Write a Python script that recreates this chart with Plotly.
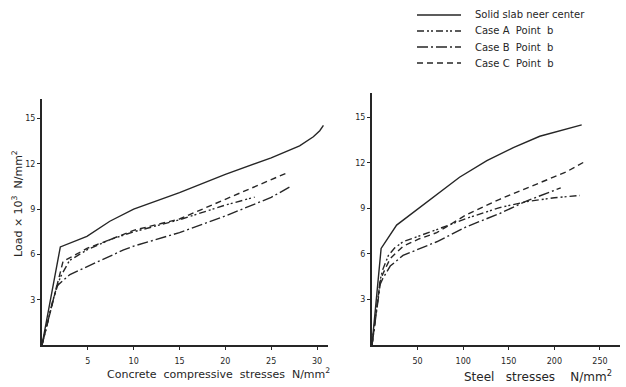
import plotly.graph_objects as go

# ---------------- data ----------------
series_names = ["Solid slab neer center", "Case A  Point  b", "Case B  Point  b", "Case C  Point  b"]

# Left panel: concrete compressive stress (N/mm^2) vs load (x10^3 N/mm^2)
conc_solid_x = [0, 2.0, 4.9, 7.4, 10.0, 15.0, 20.0, 25.0, 28.1, 29.6, 30.3, 30.7]
conc_solid_y = [0, 6.5, 7.2, 8.2, 9.0, 10.1, 11.3, 12.4, 13.2, 13.8, 14.2, 14.55]

conc_a_x = [0, 1.2, 2.0, 3.0, 4.9, 7.5, 10.0, 15.0, 20.0, 23.2]
conc_a_y = [0, 3.0, 4.5, 5.6, 6.3, 7.0, 7.5, 8.3, 9.27, 9.8]

conc_b_x = [0, 0.8, 1.6, 3.05, 4.9, 8.9, 10.0, 15.0, 20.0, 25.0, 27.1]
conc_b_y = [0, 2.0, 3.9, 4.67, 5.2, 6.3, 6.55, 7.45, 8.55, 9.78, 10.5]

conc_c_x = [0, 1.2, 2.0, 2.3, 3.4, 4.9, 7.5, 10.0, 15.0, 20.0, 25.0, 26.7]
conc_c_y = [0, 3.0, 4.8, 5.55, 5.9, 6.4, 7.0, 7.6, 8.35, 9.67, 10.95, 11.4]

# Right panel: steel stress (N/mm^2) vs load
steel_solid_x = [0, 10, 27, 49, 71, 96, 126, 155, 184, 206, 230]
steel_solid_y = [0, 6.36, 7.9, 8.9, 9.95, 11.05, 12.15, 13.0, 13.75, 14.1, 14.5]

steel_a_x = [0, 9, 12, 18, 25, 34, 71, 104, 140, 170, 200, 228]
steel_a_y = [0, 4.3, 5.0, 5.9, 6.4, 6.8, 7.6, 8.35, 9.05, 9.45, 9.7, 9.85]

steel_b_x = [0, 9, 12, 20, 34, 71, 104, 140, 170, 207]
steel_b_y = [0, 4.0, 4.4, 5.2, 5.9, 6.8, 7.8, 8.66, 9.5, 10.35]

steel_c_x = [0, 9, 12, 20, 34, 52, 71, 104, 140, 191, 213, 234]
steel_c_y = [0, 4.2, 4.7, 5.7, 6.5, 7.0, 7.4, 8.6, 9.6, 10.85, 11.4, 12.1]

conc_ticks = [5, 10, 15, 20, 25, 30]
steel_ticks = [50, 100, 150, 200, 250]
load_ticks = [3, 6, 9, 12, 15]

# ---------------- styling ----------------
INK = "#262626"
dashes = ["solid", "7px,3px,2px,2px,2px,3px", "11px,3px,2px,3px", "6px,4px"]
FONT = "DejaVu Sans"
W, H = 626, 387


def px(v):
    return v / W


def py(v):
    return 1 - v / H


fig = go.Figure()

left = [(conc_solid_x, conc_solid_y), (conc_a_x, conc_a_y), (conc_b_x, conc_b_y), (conc_c_x, conc_c_y)]
right = [(steel_solid_x, steel_solid_y), (steel_a_x, steel_a_y), (steel_b_x, steel_b_y), (steel_c_x, steel_c_y)]

for i, name in enumerate(series_names):
    x, y = left[i]
    fig.add_trace(go.Scatter(x=x, y=y, mode="lines", name=name,
                             line=dict(color=INK, width=1.4, dash=dashes[i]),
                             xaxis="x", yaxis="y", showlegend=False))
for i, name in enumerate(series_names):
    x, y = right[i]
    fig.add_trace(go.Scatter(x=x, y=y, mode="lines", name=name,
                             line=dict(color=INK, width=1.4, dash=dashes[i]),
                             xaxis="x2", yaxis="y2", showlegend=False))

axis_common = dict(showgrid=False, zeroline=False, showline=True, linecolor=INK, linewidth=2,
                   ticks="outside", ticklen=3, tickwidth=1, tickcolor=INK,
                   tickfont=dict(family=FONT, size=8, color=INK))

fig.update_layout(
    width=W, height=H,
    margin=dict(l=0, r=0, t=0, b=0),
    paper_bgcolor="white", plot_bgcolor="white",
    xaxis=dict(domain=[px(42), px(328)], range=[0, 31.2], tickvals=conc_ticks,
               anchor="y", ticklabelstandoff=4, **axis_common),
    yaxis=dict(domain=[py(345), py(99)], range=[0, 16.3], tickvals=load_ticks,
               anchor="x", **axis_common),
    xaxis2=dict(domain=[px(372), px(620)], range=[0, 272], tickvals=steel_ticks,
                anchor="y2", ticklabelstandoff=4, **axis_common),
    yaxis2=dict(domain=[py(345), py(93)], range=[0, 16.6], tickvals=load_ticks,
                anchor="x2", **axis_common),
    showlegend=False,
)

# Legend (drawn as key lines + labels, top right, tightly spaced as in the figure)
legend_rows = [15, 31, 47, 63]
for i, name in enumerate(series_names):
    yy = py(legend_rows[i])
    fig.add_shape(type="line", xref="paper", yref="paper",
                  x0=px(417), x1=px(461), y0=yy, y1=yy,
                  line=dict(color=INK, width=1.4, dash=dashes[i]))
    fig.add_annotation(text=name, x=px(473), y=yy, xref="paper", yref="paper",
                       xanchor="left", yanchor="middle", showarrow=False,
                       font=dict(family=FONT, size=10, color=INK))

fig.add_annotation(text="Load × 10<sup>3</sup>  N/mm<sup>2</sup>", textangle=-90,
                   x=px(17), y=py(204), xref="paper", yref="paper", showarrow=False,
                   xanchor="center", yanchor="middle",
                   font=dict(family=FONT, size=11, color=INK))
fig.add_annotation(text="Concrete  compressive  stresses  N/mm<sup>2</sup>",
                   x=px(218), y=py(383), xref="paper", yref="paper", showarrow=False,
                   xanchor="center", yanchor="bottom",
                   font=dict(family=FONT, size=11, color=INK))
fig.add_annotation(text="Steel   stresses    N/mm<sup>2</sup>",
                   x=px(538), y=py(386), xref="paper", yref="paper", showarrow=False,
                   xanchor="center", yanchor="bottom",
                   font=dict(family=FONT, size=12, color=INK))

# the page body has a default 8px margin; remove it so the figure fills the window
fig.write_html("out.html", config={"displayModeBar": False},
               post_script="document.body.style.margin='0';")
